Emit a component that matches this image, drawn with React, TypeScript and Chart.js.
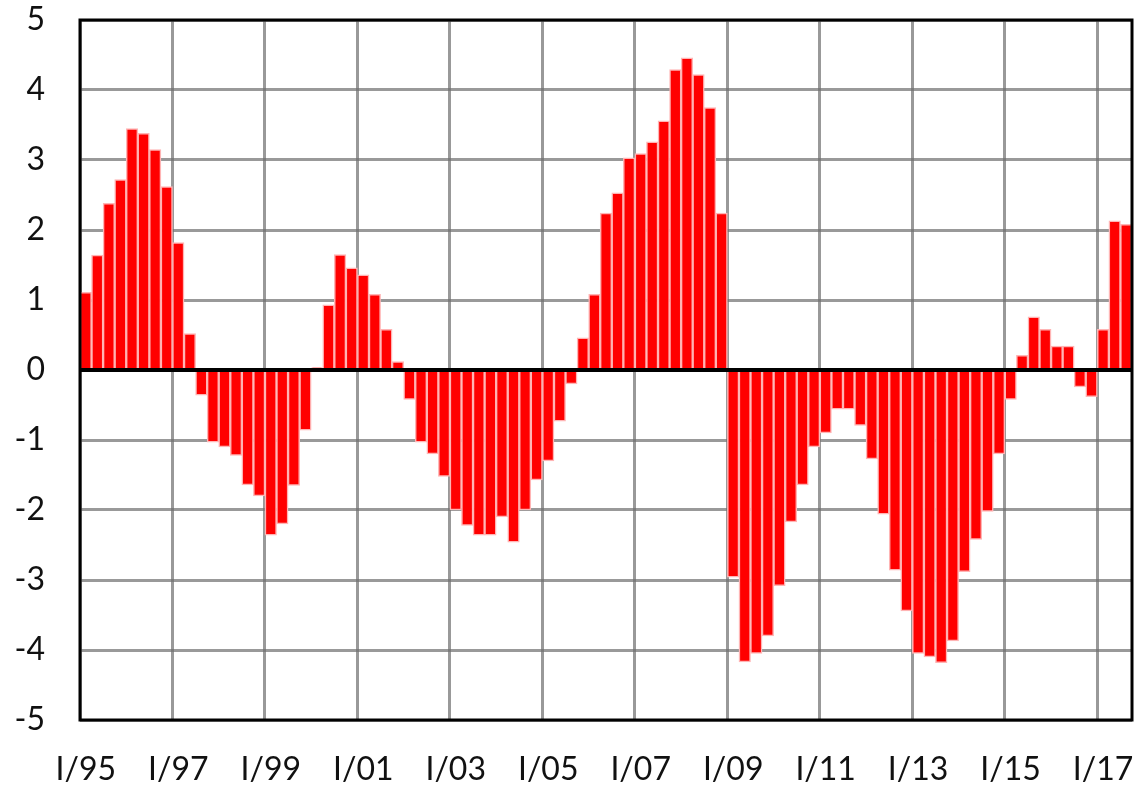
import React, { useEffect, useRef } from "react";
import { Chart, registerables } from "chart.js";

Chart.register(...registerables);

const years = ["95","96","97","98","99","00","01","02","03","04","05","06","07","08","09","10","11","12","13","14","15","16","17"];
const quarters = ["I", "II", "III", "IV"];
const lastYearQuarters = 3;

const values = [
  1.11, 1.64, 2.38, 2.72,
  3.45, 3.38, 3.15, 2.62,
  1.82, 0.52, -0.36, -1.03,
  -1.1, -1.22, -1.64, -1.8,
  -2.36, -2.2, -1.65, -0.86,
  0.03, 0.93, 1.65, 1.46,
  1.36, 1.08, 0.58, 0.12,
  -0.42, -1.03, -1.2, -1.52,
  -2.0, -2.22, -2.36, -2.36,
  -2.1, -2.46, -2.0, -1.57,
  -1.3, -0.73, -0.2, 0.46,
  1.08, 2.24, 2.53, 3.03,
  3.09, 3.26, 3.56, 4.29,
  4.46, 4.22, 3.75, 2.24,
  -2.96, -4.17, -4.05, -3.8,
  -3.08, -2.17, -1.64, -1.1,
  -0.9, -0.56, -0.56, -0.79,
  -1.27, -2.06, -2.86, -3.44,
  -4.05, -4.1, -4.18, -3.87,
  -2.88, -2.42, -2.02, -1.2,
  -0.42, 0.21, 0.76, 0.58,
  0.34, 0.34, -0.24, -0.38,
  0.58, 2.13, 2.08,
];

const yTicks = [-5, -4, -3, -2, -1, 0, 1, 2, 3, 4, 5];

const categories: string[] = [];
years.forEach((y, yi) => {
  const n = yi === years.length - 1 ? lastYearQuarters : 4;
  for (let q = 0; q < n; q++) categories.push(`${quarters[q]}/${y}`);
});

const frame = {
  id: "frame",
  afterDraw(chart: any) {
    const { ctx, chartArea: a } = chart;
    ctx.save();
    ctx.strokeStyle = "#000";
    ctx.lineWidth = 3;
    ctx.strokeRect(a.left, a.top, a.right - a.left, a.bottom - a.top);
    ctx.restore();
  },
};

const noPad = (s: any) => {
  s.paddingLeft = 0;
  s.paddingRight = 0;
  s.paddingTop = 0;
  s.paddingBottom = 0;
};

export default function App() {
  const ref = useRef<HTMLCanvasElement>(null);
  useEffect(() => {
    document.body.style.margin = "0";
    const chart = new Chart(ref.current!, {
      type: "bar",
      data: {
        labels: categories,
        datasets: [
          {
            data: values,
            backgroundColor: "#ff0000",
            borderColor: "#ffb4b4",
            borderWidth: 1.5,
            barPercentage: 1,
            categoryPercentage: 1,
          },
        ],
      },
      options: {
        animation: false,
        responsive: false,
        maintainAspectRatio: false,
        layout: { padding: { top: 20, right: 2, left: 0, bottom: 0 } },
        plugins: { legend: { display: false }, tooltip: { enabled: false } },
        scales: {
          x: {
            z: 1,
            offset: true,
            grid: {
              offset: true,
              drawTicks: false,
              lineWidth: 3,
              color: (c: any) => (c.index !== undefined && c.index % 8 === 0 ? "rgba(110,110,110,0.7)" : "rgba(0,0,0,0)"),
            },
            border: { display: false },
            ticks: {
              autoSkip: false,
              maxRotation: 0,
              minRotation: 0,
              padding: 30,
              color: "#111",
              font: { family: "Lato", size: 32 },
              callback: (_v: any, i: number) => (i % 8 === 0 ? categories[i] : ""),
            },
            afterFit: (s: any) => {
              s.height = 68;
              noPad(s);
            },
          },
          y: {
            z: 1,
            min: -5,
            max: 5,
            afterBuildTicks: (s: any) => {
              s.ticks = yTicks.map((v) => ({ value: v }));
            },
            grid: {
              drawTicks: false,
              lineWidth: (c: any) => (c.tick && c.tick.value === 0 ? 4 : 3),
              color: (c: any) => (c.tick && c.tick.value === 0 ? "#000" : "rgba(110,110,110,0.7)"),
            },
            border: { display: false },
            ticks: {
              padding: 35,
              color: "#111",
              font: { family: "Lato", size: 32 },
            },
            afterFit: (s: any) => {
              s.width = 80;
              noPad(s);
            },
          },
        },
      },
      plugins: [frame],
    });
    return () => chart.destroy();
  }, []);
  return (
    <div style={{ width: 1134, height: 788 }}>
      <canvas ref={ref} width={1134} height={788} />
    </div>
  );
}
